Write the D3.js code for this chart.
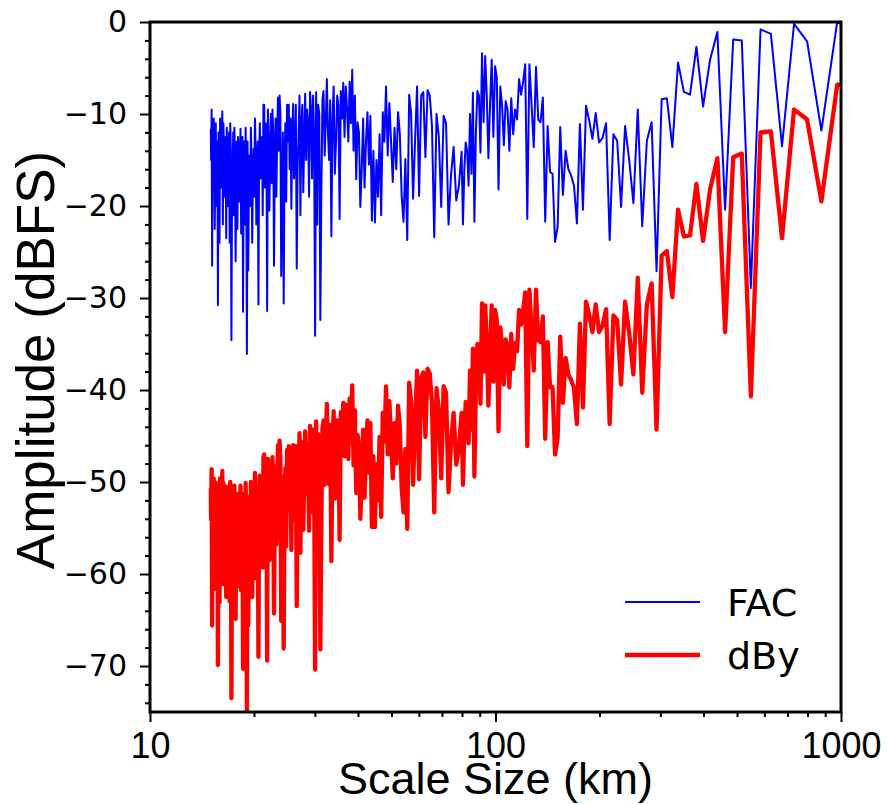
<!DOCTYPE html>
<html><head><meta charset="utf-8">
<script src="https://cdn.jsdelivr.net/npm/d3@7"></script>
<style>
html,body{margin:0;padding:0;background:#fff;}
svg{display:block;font-family:"DejaVu Sans",sans-serif;}
</style></head><body>
<svg id="chart" width="887" height="804"></svg>
<script>
// Record length (km) used to convert harmonic number -> scale size
const recordLengthKm = 8775;

// Harmonic numbers of the plotted spectral points
const harmonic = [
8,9,10,11,12,13,14,15,16,17,18,19,20,
21,22,23,24,25,26,27,28,29,30,
31,32,33,34,35,36,37,38,39,40,
41,42,43,44,45,46,47,48,49,50,
51,52,53,54,55,56,57,58,59,60,
61,62,63,64,65,66,67,68,69,70,
71,72,73,74,75,76,77,78,79,80,
81,82,83,84,85,86,87,88,89,90,
91,92,93,94,95,96,97,98,99,100,
101,102,103,104,105,106,107,108,109,110,
112,114,116,118,120,122,124,126,128,130,
132,134,136,138,140,142,144,146,148,150,
152,154,156,158,160,162,164,166,168,170,
172,174,176,178,180,182,184,186,188,190,
192,194,196,198,200,202,204,206,208,210,
212,214,216,218,220,222,224,226,228,230,
232,234,236,238,240,242,244,246,248,250,
252,254,256,258,260,262,264,266,268,270,
272,274,276,278,280,282,284,286,288,290,
292,294,296,298,300,302,304,306,308,310,
312,314,316,318,320,322,324,326,328,330,
332,334,336,338,340,342,344,346,348,350,
352,354,356,358,360,362,364,366,368,370,
372,374,376,378,380,382,384,386,388,390,
392,394,396,398,400,402,404,406,408,410,
412,414,416,418,420,422,424,426,428,430,
432,434,436,438,440,442,444,446,448,450,
452,454,456,458,460,462,464,466,468,470,
472,474,476,478,480,482,484,486,488,490,
492,494,496,498,500,502,504,506,508,510,
512,514,516,518,520,522,524,526,528,530,
532,534,536,538,540,542,544,546,548,550,
552,554,556,558,560,562,564,566,568,570,
572,574,576,578,580,582,584,585];

// FAC amplitude (dBFS)
const facDb = [
-1.0,0.0,-11.8,-2.1,-0.2,-13.5,-1.3,-0.8,-28.9,-2.0,-1.9,-20.4,-1.1,
-4.1,-9.2,-2.7,-7.9,-7.6,-4.4,-13.6,-8.3,-8.4,-27.1,
-10.9,-12.9,-22.2,-9.5,-19.7,-15.0,-11.3,-20.1,-12.9,-12.2,
-23.7,-11.0,-12.6,-13.1,-9.9,-12.7,-10.7,-9.1,-20.4,-11.1,
-21.9,-17.8,-16.7,-16.0,-14.0,-18.8,-11.4,-22.3,-23.9,-16.5,
-16.3,-11.3,-21.7,-8.2,-10.9,-10.6,-4.9,-13.6,-9.0,-4.6,
-21.4,-4.6,-6.5,-7.9,-6.2,-10.6,-9.5,-12.2,-8.3,-14.0,
-9.5,-8.6,-13.4,-9.0,-7.0,-18.2,-6.0,-4.8,-12.5,-4.1,
-9.0,-14.8,-8.0,-3.7,-10.9,-3.4,-14.2,-8.0,-7.5,-12.0,
-21.7,-7.7,-16.5,-10.0,-17.8,-14.0,-13.1,-16.0,-22.0,-14.1,
-17.8,-19.4,-13.6,-16.6,-22.0,-11.0,-10.2,-20.1,-12.5,-10.0,
-23.4,-11.3,-8.0,-7.4,-14.7,-7.6,-8.0,-18.9,-7.0,-13.0,
-19.2,-10.0,-7.9,-23.7,-14.9,-21.7,-18.9,-12.2,-9.8,-16.0,
-11.5,-17.4,-13.0,-8.8,-14.5,-7.0,-13.0,-9.8,-21.0,-12.2,
-19.0,-15.0,-21.8,-14.0,-21.6,-10.2,-15.5,-9.8,-13.0,-18.0,
-10.5,-16.0,-20.1,-12.0,-10.9,-17.1,-8.0,-14.0,-5.2,-11.0,
-6.5,-13.0,-9.5,-7.0,-12.5,-6.6,-10.5,-7.5,-21.4,-9.0,
-8.0,-13.0,-16.5,-7.0,-10.5,-23.3,-8.5,-15.0,-12.0,-6.2,
-11.0,-14.5,-7.5,-8.4,-18.0,-32.4,-10.0,-9.0,-22.0,-7.6,
-34.1,-12.0,-8.0,-17.0,-9.5,-7.6,-19.0,-11.0,-9.5,-15.0,
-7.8,-13.0,-18.5,-9.0,-11.0,-21.0,-8.0,-12.5,-15.5,-26.8,
-9.0,-14.0,-17.0,-8.9,-12.0,-20.3,-10.5,-16.0,-9.0,-13.0,
-9.0,-19.5,-11.0,-15.0,-30.6,-12.0,-18.0,-27.6,-10.0,-8.0,
-14.0,-8.2,-12.5,-19.0,-10.5,-15.0,-26.5,-12.0,-9.5,-17.5,
-10.0,-14.0,-20.5,-13.0,-9.5,-31.4,-11.0,-16.0,-18.0,-9.0,
-9.0,-21.0,-12.5,-15.5,-17.0,-11.0,-14.0,-30.7,-13.0,-15.5,
-22.0,-14.0,-10.5,-19.0,-13.8,-17.0,-24.0,-15.0,-11.5,-20.0,
-14.5,-18.0,-27.0,-13.0,-36.1,-16.0,-11.5,-22.0,-13.0,-17.5,
-31.5,-12.5,-17.0,-23.0,-11.6,-16.0,-19.5,-14.0,-12.5,-22.5,
-13.0,-18.0,-26.0,-15.0,-11.5,-21.0,-12.0,-16.5,-18.0,-34.6,
-14.0,-11.0,-24.0,-12.0,-17.0,-20.0,-15.0,-11.5,-23.5,-12.5,
-16.0,-19.0,-14.0,-11.0,-22.0,-9.7,-15.0,-18.0,-13.0,-10.5,
-24.0,-16.0,-12.0,-30.8,-13.0,-17.0,-20.0,-11.0,-14.5,-22.5,
-14.0,-10.5,-18.0,-12.5,-26.5,-9.5,-15.0,-11.6];

// dBy amplitude (dBFS)
const dByDb = [
-6.8,-6.8,-19.5,-10.6,-9.5,-23.5,-11.9,-12.0,-40.7,-14.3,-14.7,-33.7,-14.8,
-18.2,-23.8,-17.6,-23.2,-23.3,-20.4,-29.9,-24.9,-25.4,-44.3,
-28.4,-30.7,-40.3,-27.8,-38.3,-33.8,-30.4,-39.4,-32.4,-31.9,
-43.7,-31.2,-33.0,-33.7,-30.7,-33.7,-31.8,-30.4,-41.9,-32.8,
-43.7,-39.8,-38.9,-38.3,-36.5,-41.4,-34.2,-45.2,-47.0,-39.7,
-39.7,-34.8,-45.3,-32.0,-34.8,-34.6,-29.1,-37.9,-33.4,-29.1,
-46.1,-29.4,-31.4,-32.9,-31.3,-35.8,-34.9,-37.7,-33.9,-39.7,
-35.3,-34.5,-39.4,-35.1,-33.2,-44.5,-32.4,-31.3,-39.1,-30.8,
-35.8,-41.7,-35.0,-30.8,-38.0,-30.6,-41.5,-35.4,-35.0,-39.6,
-49.4,-35.5,-44.3,-37.9,-45.8,-42.1,-41.3,-44.3,-50.3,-42.5,
-46.4,-48.1,-42.5,-45.6,-51.1,-40.3,-39.6,-49.6,-42.2,-39.8,
-53.3,-41.4,-38.2,-37.7,-45.1,-38.1,-38.7,-49.7,-37.9,-44.0,
-50.3,-41.2,-39.2,-55.1,-46.4,-53.3,-50.6,-44.0,-41.7,-48.0,
-43.6,-49.6,-45.3,-41.2,-47.0,-39.6,-45.6,-42.5,-53.8,-45.1,
-52.0,-48.1,-54.9,-47.2,-54.9,-43.6,-49.0,-43.3,-46.6,-51.7,
-44.3,-49.8,-54.0,-46.0,-44.9,-51.2,-42.2,-48.2,-39.5,-45.4,
-40.9,-47.5,-44.1,-41.6,-47.2,-41.4,-45.3,-42.4,-56.3,-44.0,
-43.3,-48.3,-51.8,-42.3,-45.8,-58.6,-43.8,-50.3,-47.3,-41.5,
-46.8,-50.3,-43.3,-44.2,-53.8,-68.2,-45.8,-44.8,-57.8,-43.4,
-70.4,-48.3,-44.3,-53.3,-45.8,-43.9,-55.3,-47.3,-45.8,-51.3,
-44.5,-49.7,-55.2,-45.7,-47.7,-57.7,-44.7,-49.2,-52.2,-63.5,
-46.1,-51.1,-54.1,-46.0,-49.1,-57.4,-47.6,-53.1,-46.1,-50.1,
-46.5,-57.0,-48.5,-52.5,-68.1,-49.5,-55.5,-65.1,-47.5,-45.5,
-51.8,-46.0,-50.3,-56.8,-48.3,-52.8,-64.3,-49.8,-47.3,-55.3,
-48.0,-52.0,-58.5,-51.0,-47.5,-69.4,-49.0,-54.0,-56.0,-47.0,
-47.3,-59.3,-50.8,-53.8,-55.3,-49.3,-52.3,-69.0,-51.3,-53.8,
-60.5,-52.5,-49.0,-57.5,-52.3,-55.5,-62.5,-53.5,-50.0,-58.5,
-53.1,-56.6,-65.6,-51.6,-75.5,-54.6,-50.1,-60.6,-51.6,-56.1,
-70.3,-51.3,-55.8,-61.8,-50.4,-54.8,-58.3,-52.8,-51.3,-61.3,
-51.9,-56.9,-64.9,-53.9,-50.4,-59.9,-50.9,-55.4,-56.9,-73.5,
-53.0,-50.0,-63.0,-51.0,-56.0,-59.0,-54.0,-50.5,-62.5,-51.5,
-55.1,-58.1,-53.1,-50.1,-61.1,-48.8,-54.1,-57.1,-52.1,-49.6,
-63.1,-55.1,-51.1,-69.9,-52.1,-56.1,-59.1,-50.1,-53.6,-61.6,
-53.1,-49.6,-57.1,-51.6,-65.6,-48.6,-54.1,-50.7];

const xTickValues = [10, 100, 1000];
const xMinorTicks = [20,30,40,50,60,70,80,90,200,300,400,500,600,700,800,900];
const yTickValues = [0,-10,-20,-30,-40,-50,-60,-70];
const seriesNames = ["FAC","dBy"];
const seriesColors = ["#0000ff","#ff0000"];
const seriesWidths = [2, 4.3];
const xLabel = "Scale Size (km)";
const yLabel = "Amplitude (dBFS)";

const svg = d3.select("#chart");
svg.append("rect").attr("width",887).attr("height",804).attr("fill","#fff");

const plot = {left:150, right:841, top:22, bottom:712};
const x = d3.scaleLog().domain([10,1000]).range([plot.left, plot.right]);
const y = d3.scaleLinear().domain([-75,0]).range([plot.bottom, plot.top]);

svg.append("clipPath").attr("id","clip").append("rect")
  .attr("x",plot.left).attr("y",plot.top)
  .attr("width",plot.right-plot.left).attr("height",plot.bottom-plot.top);

const series = [facDb, dByDb].map((vals,i)=>({
  name: seriesNames[i], color: seriesColors[i], width: seriesWidths[i],
  pts: harmonic.map((n,j)=>({s: recordLengthKm/n, v: vals[j]}))
}));

const line = d3.line().x(d=>x(d.s)).y(d=>y(d.v));
const g = svg.append("g").attr("clip-path","url(#clip)");
series.forEach(s=>{
  g.append("path").datum(s.pts).attr("d",line)
   .attr("fill","none").attr("stroke",s.color).attr("stroke-width",s.width)
   .attr("stroke-linejoin","round").attr("stroke-linecap","butt");
});

// axes
const xAxis = svg.append("g").attr("transform",`translate(0,${plot.bottom})`)
  .call(d3.axisBottom(x).tickValues(xTickValues).tickFormat(d3.format("d")).tickSize(10).tickPadding(10));
const xMinor = svg.append("g").attr("transform",`translate(0,${plot.bottom})`)
  .call(d3.axisBottom(x).tickValues(xMinorTicks).tickFormat("").tickSize(5));
const yAxis = svg.append("g").attr("transform",`translate(${plot.left},0)`)
  .call(d3.axisLeft(y).tickValues(yTickValues).tickSize(10).tickPadding(13));
const yMinorVals = d3.range(-74, 0, 2).filter(v=>v%10!==0);
const yMinor = svg.append("g").attr("transform",`translate(${plot.left},0)`)
  .call(d3.axisLeft(y).tickValues(yMinorVals).tickFormat("").tickSize(5));
[xAxis,xMinor,yAxis,yMinor].forEach(a=>{
  a.select(".domain").remove();
  a.selectAll("line").attr("stroke","#000").attr("stroke-width",2);
});
xAxis.selectAll("text").attr("font-size",36).attr("fill","#000")
  .attr("font-family","'Liberation Sans', Arial, sans-serif");
yAxis.selectAll("text").attr("font-size",30).attr("fill","#000")
  .attr("font-family","'DejaVu Sans', sans-serif");

// frame
svg.append("rect").attr("x",plot.left).attr("y",plot.top)
  .attr("width",plot.right-plot.left).attr("height",plot.bottom-plot.top)
  .attr("fill","none").attr("stroke","#000").attr("stroke-width",3);

// labels
svg.append("text").attr("x",(plot.left+plot.right)/2).attr("y",794)
  .attr("text-anchor","middle").attr("font-size",45)
  .attr("font-family","'Liberation Sans', Arial, sans-serif").text(xLabel);
svg.append("text").attr("transform",`translate(54,360) rotate(-90)`)
  .attr("text-anchor","middle").attr("font-size",53)
  .attr("font-family","'Liberation Sans', Arial, sans-serif").text(yLabel);

// legend
const leg = svg.append("g");
series.forEach((s,i)=>{
  const ly = 602 + i*53;
  leg.append("line").attr("x1",625).attr("x2",700).attr("y1",ly).attr("y2",ly)
    .attr("stroke",s.color).attr("stroke-width",s.width);
  leg.append("text").attr("x",727).attr("y",ly+14).attr("font-size",38).text(s.name);
});
</script>
</body></html>
